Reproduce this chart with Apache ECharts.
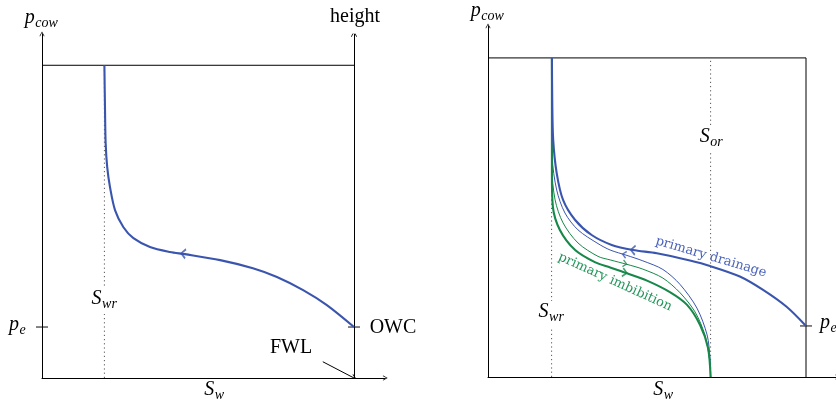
<!DOCTYPE html>
<html><head><meta charset="utf-8">
<script src="https://cdn.jsdelivr.net/npm/echarts@6/dist/echarts.min.js"></script>
<style>html,body{margin:0;padding:0;background:#fff}#c{width:836px;height:405px}</style>
</head><body><div id="c"></div>
<script>
// ---------- data (normalised saturation / capillary pressure) ----------
const swrLeft = 0.2;
const peLeft = 0.163;
const leftSw = [0.2, 0.202, 0.204, 0.209, 0.218, 0.234, 0.261, 0.293, 0.346, 0.41, 0.458, 0.571, 0.676, 0.753, 0.837, 0.913, 1.0];
const leftPc = [1.0, 0.856, 0.751, 0.674, 0.61, 0.537, 0.482, 0.447, 0.419, 0.403, 0.396, 0.377, 0.351, 0.323, 0.281, 0.233, 0.163];
const fwlArrowFrom = [0.9, 0.052];
const fwlArrowTo = [1.0, 0.0];
const leftArrowAt = [[0.452, 0.398]];

const swrRight = 0.2;
const sorRight = 0.7;
const peRight = 0.16;
const drainSw = [0.201, 0.202, 0.205, 0.216, 0.236, 0.274, 0.326, 0.389, 0.456, 0.531, 0.635, 0.698, 0.792, 0.865, 0.939, 1.0];
const drainPc = [1.0, 0.868, 0.743, 0.639, 0.555, 0.492, 0.445, 0.414, 0.398, 0.388, 0.365, 0.348, 0.315, 0.273, 0.22, 0.16];
const scanDrainSw = [0.201, 0.201, 0.202, 0.216, 0.242, 0.283, 0.346, 0.384, 0.437, 0.487, 0.55, 0.604, 0.657, 0.689, 0.698, 0.7];
const scanDrainPc = [1.0, 0.806, 0.69, 0.586, 0.514, 0.461, 0.418, 0.398, 0.381, 0.364, 0.337, 0.29, 0.216, 0.132, 0.06, 0.0];
const scanImbSw = [0.201, 0.201, 0.201, 0.211, 0.236, 0.283, 0.346, 0.384, 0.437, 0.487, 0.55, 0.604, 0.651, 0.682, 0.698, 0.7];
const scanImbPc = [1.0, 0.774, 0.658, 0.555, 0.483, 0.42, 0.378, 0.367, 0.353, 0.338, 0.31, 0.264, 0.204, 0.132, 0.047, 0.0];
const imbSw = [0.201, 0.201, 0.201, 0.204, 0.226, 0.274, 0.336, 0.384, 0.437, 0.5, 0.572, 0.626, 0.667, 0.692, 0.7];
const imbPc = [1.0, 0.743, 0.633, 0.533, 0.461, 0.398, 0.36, 0.343, 0.325, 0.302, 0.266, 0.226, 0.163, 0.091, 0.0];
const drainArrowAt = [[0.455, 0.398]];
const scanDrainArrowAt = [[0.428, 0.384]];
const scanImbArrowAt = [[0.431, 0.355]];
const imbArrowAt = [[0.431, 0.327]];

// ---------- helpers ----------
const zip = (xs, ys) => xs.map((x, i) => [x, ys[i]]);
const BLUE = '#3a55ae', GREEN = '#17874a';
const CHEV = 'path://M0,9 L5,0 L10,9 L9,10 L5,2.6 L1,10 Z';
const CHEV2 = 'path://M0,8.4 L5,0 L10,8.4 L8.4,10 L5,3.6 L1.6,10 Z';
const mctx = document.createElement('canvas').getContext('2d');
const tw = (font, s) => { mctx.font = font; return mctx.measureText(s).width; };
const FM = 'italic 20px "Liberation Serif"', FS = 'italic 14px "Liberation Serif"', FR = '20px "Liberation Serif"';
const graphics = [];
function mathLabel(cx, cy, main, sub, opt) {
  opt = opt || {};
  const wm = tw(FM, main), ws = sub ? tw(FS, sub) : 0;
  const x0 = opt.left ? cx : cx - (wm + ws) / 2;
  if (opt.bg) graphics.push({type: 'rect', z: 99, shape: {x: x0 - 3, y: cy - 11, width: wm + ws + 6, height: 26}, style: {fill: '#fff'}});
  graphics.push({type: 'text', z: 100, x: x0, y: cy, style: {text: main, font: FM, fill: '#000', align: 'left', verticalAlign: 'middle'}});
  if (sub) graphics.push({type: 'text', z: 100, x: x0 + wm + 0.5, y: cy + 5.5, style: {text: sub, font: FS, fill: '#000', align: 'left', verticalAlign: 'middle'}});
}
function plainLabel(cx, cy, s) {
  graphics.push({type: 'text', z: 100, x: cx, y: cy, style: {text: s, font: FR, fill: '#000', align: 'center', verticalAlign: 'middle'}});
}
function curveLabel(cx, cy, s, deg, color) {
  graphics.push({type: 'text', z: 100, x: cx, y: cy, rotation: deg * Math.PI / 180,
    style: {text: s, font: '13px "DejaVu Serif"', fill: color, align: 'center', verticalAlign: 'middle'}});
}

// left panel labels
mathLabel(41, 17.5, 'p', 'cow');
plainLabel(355, 17, 'height');
mathLabel(17, 325, 'p', 'e');
mathLabel(104, 299, 'S', 'wr', {bg: true});
plainLabel(393, 328, 'OWC');
plainLabel(291, 347.5, 'FWL');
mathLabel(214, 389.5, 'S', 'w');
// right panel labels
mathLabel(487, 11, 'p', 'cow');
mathLabel(711, 137, 'S', 'or', {bg: true});
mathLabel(551, 312, 'S', 'wr', {bg: true});
mathLabel(663, 389.5, 'S', 'w');
mathLabel(820, 323, 'p', 'e', {left: true});
curveLabel(711, 257, 'primary drainage', -16.5, '#4a62bb');
curveLabel(615, 282, 'primary imbibition', -24.5, '#22965a');

function axis(gi) {
  return {type: 'value', gridIndex: gi, min: 0, max: 1.1,
    splitLine: {show: false}, axisTick: {show: false}, axisLabel: {show: false},
    axisLine: {show: true, onZero: false, symbol: ['none', CHEV], symbolSize: [7, 5], lineStyle: {color: '#000', width: 1}}};
}
const line = (gi, data, color, width, extra) => Object.assign({
  type: 'line', xAxisIndex: gi, yAxisIndex: gi, data: data, showSymbol: false, symbol: 'none',
  lineStyle: {color: color, width: width}, silent: true, animation: false}, extra || {});
const arrow = (gi, data, color, rot, size) => ({type: 'scatter', xAxisIndex: gi, yAxisIndex: gi, data: data,
  symbol: CHEV2, symbolSize: size, symbolRotate: rot, itemStyle: {color: color}, silent: true, z: 6});
const dotted = (gi, x) => line(gi, [[x, 0], [x, 1]], '#555', 1, {lineStyle: {color: '#555', width: 1, type: [1.2, 3]}, z: 1});

const chart = echarts.init(document.getElementById('c'), null, {renderer: 'canvas'});
chart.setOption({
  animation: false,
  backgroundColor: '#fff',
  grid: [
    {left: 42, top: 34, width: 343.2, height: 344, outerBoundsMode: 'none', containLabel: false},
    {left: 488, top: 26, width: 349.8, height: 351, outerBoundsMode: 'none', containLabel: false}
  ],
  xAxis: [axis(0), axis(1)],
  yAxis: [axis(0), axis(1)],
  series: [
    // left panel
    dotted(0, swrLeft),
    line(0, [[0, 1], [1, 1]], '#000', 1),
    {type: 'lines', coordinateSystem: 'cartesian2d', xAxisIndex: 0, yAxisIndex: 0, silent: true,
      symbol: ['none', CHEV], symbolSize: [8, 6],
      lineStyle: {color: '#000', width: 1, opacity: 1},
      data: [{coords: [[1, 0], [1, 1.1]]}, {coords: [fwlArrowFrom, fwlArrowTo]}]},
    {type: 'scatter', xAxisIndex: 0, yAxisIndex: 0, data: [[0, peLeft], [1, peLeft]], symbol: 'rect', symbolSize: [12, 1.2], itemStyle: {color: '#000'}, silent: true},
    line(0, zip(leftSw, leftPc), BLUE, 2.1, {smooth: 0.3, z: 3}),
    arrow(0, leftArrowAt, BLUE, 84, [11, 6]),
    // right panel
    dotted(1, swrRight),
    dotted(1, sorRight),
    line(1, [[0, 1], [1, 1], [1, 0]], '#000', 1),
    {type: 'scatter', xAxisIndex: 1, yAxisIndex: 1, data: [[1, peRight]], symbol: 'rect', symbolSize: [12, 1.2], itemStyle: {color: '#000'}, silent: true},
    line(1, zip(scanDrainSw, scanDrainPc), BLUE, 1, {smooth: 0.3, z: 3}),
    line(1, zip(scanImbSw, scanImbPc), GREEN, 1, {smooth: 0.3, z: 3}),
    line(1, zip(imbSw, imbPc), GREEN, 2.1, {smooth: 0.3, z: 3}),
    line(1, zip(drainSw, drainPc), BLUE, 2.1, {smooth: 0.3, z: 4}),
    arrow(1, drainArrowAt, BLUE, 85, [11, 6]),
    arrow(1, scanDrainArrowAt, BLUE, 80, [8, 5]),
    arrow(1, scanImbArrowAt, GREEN, -100, [8, 5]),
    arrow(1, imbArrowAt, GREEN, -100, [10, 6])
  ],
  graphic: graphics
});
</script></body></html>
